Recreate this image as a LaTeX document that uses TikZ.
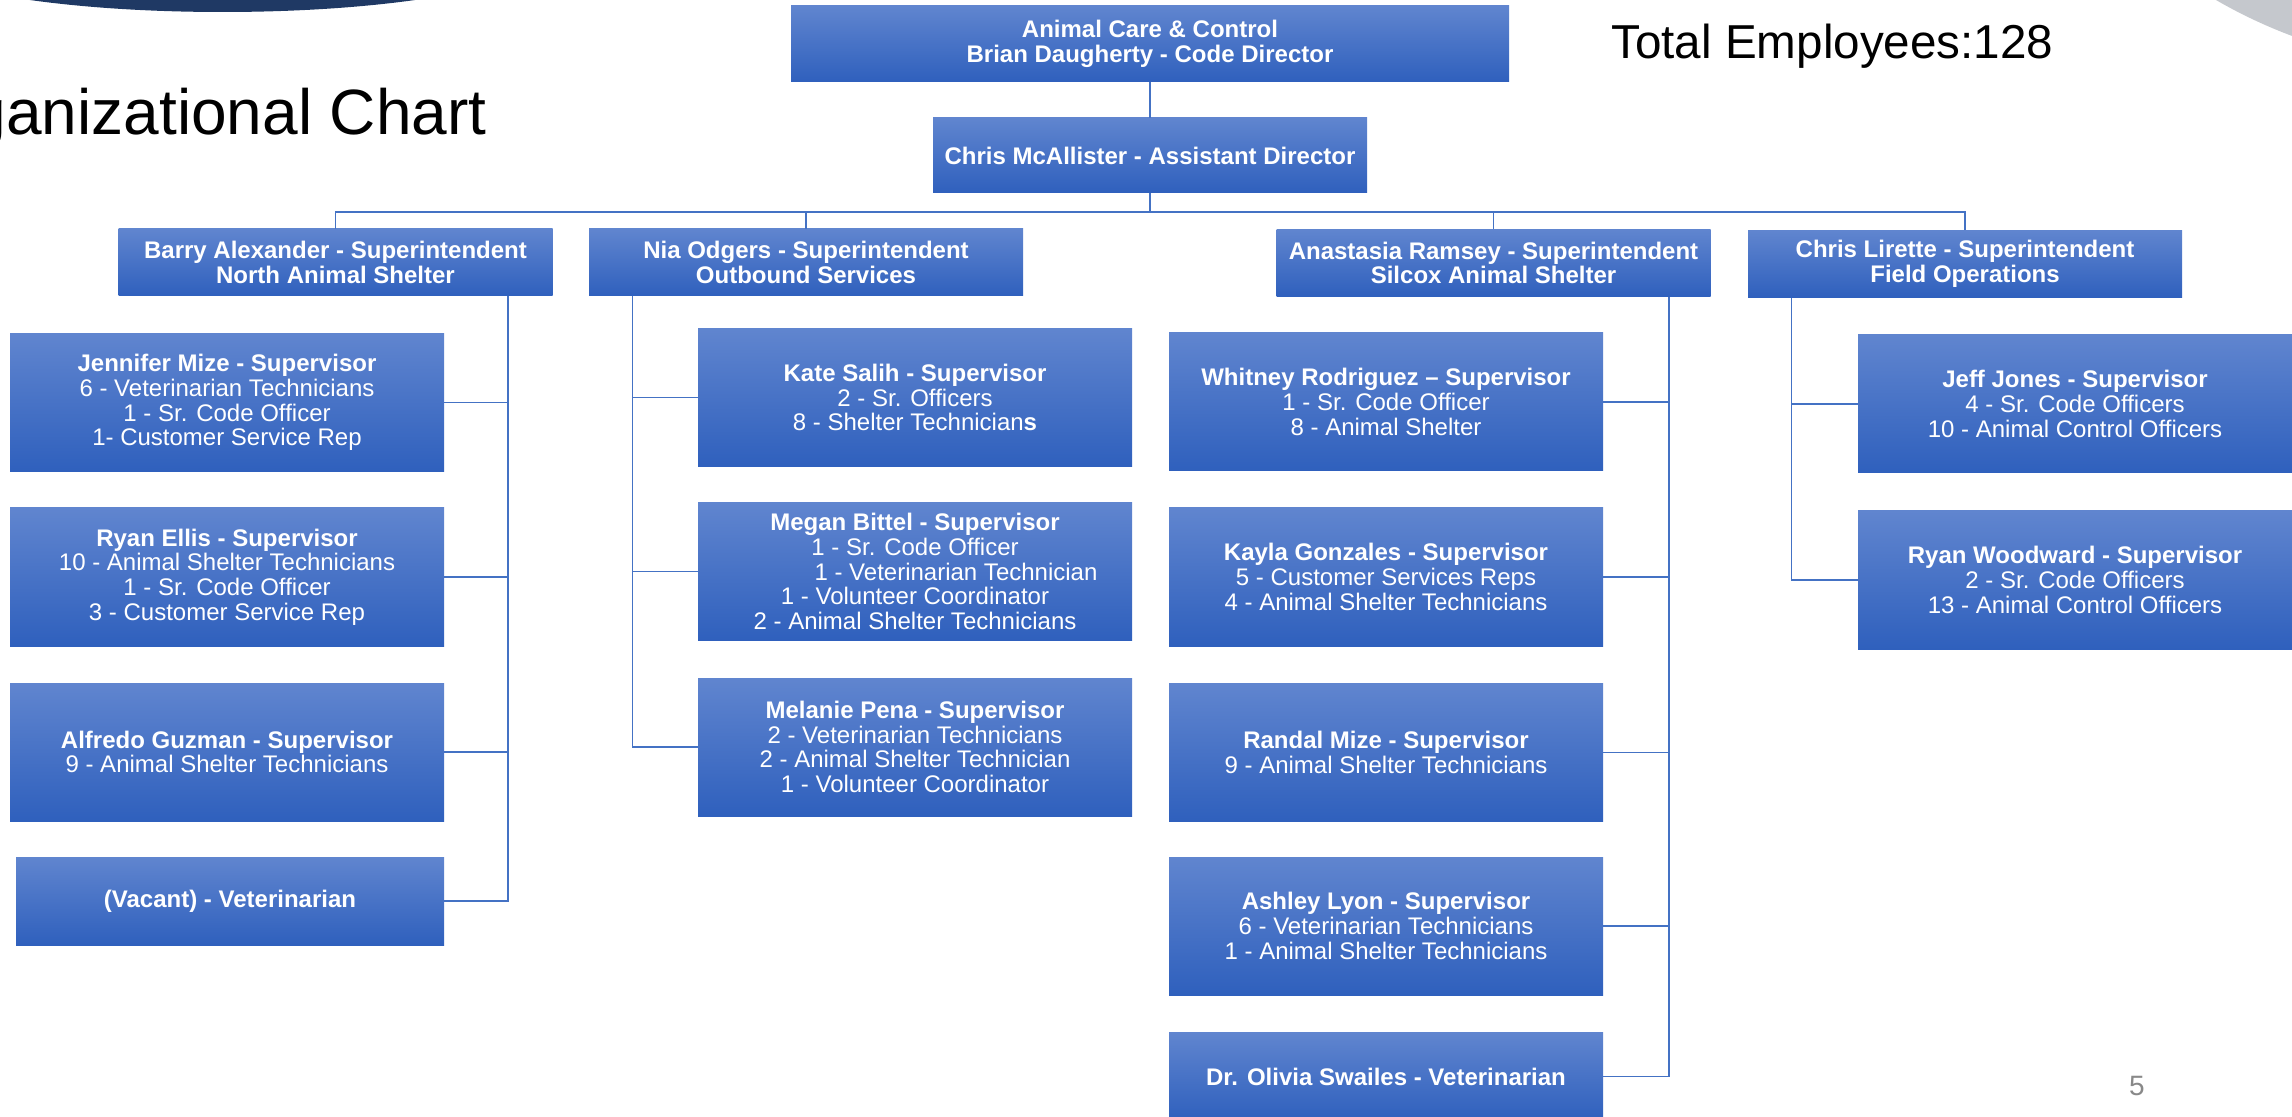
\documentclass[tikz,border=0pt]{standalone}
\usepackage{fontspec}
\setmainfont{Liberation Sans}
\definecolor{boxtop}{RGB}{96,133,207}
\definecolor{boxmid}{RGB}{68,114,196}
\definecolor{boxbot}{RGB}{47,96,189}
\definecolor{linec}{RGB}{68,114,196}
\definecolor{navy}{RGB}{31,57,100}
\definecolor{lgrey}{RGB}{197,200,205}
\definecolor{pgrey}{RGB}{137,137,137}
\newcommand\bxfont{\fontsize{12}{12.3}\selectfont}
\begin{document}
\begin{tikzpicture}[x=0.5pt,y=-0.5pt,
  box/.style={rectangle, top color=boxtop, middle color=boxmid, bottom color=boxbot,
    text=white, align=center, inner sep=1pt, font=\bxfont},
  hbox/.style={box, font=\bxfont\bfseries},
  sbox/.style={hbox, minimum width=217pt, minimum height=33.5pt},
  vbox/.style={box, minimum width=217pt, minimum height=69pt},
  mbox/.style={hbox, minimum width=217pt, minimum height=44pt},
  conn/.style={draw=linec, line width=0.75pt}
]
\useasboundingbox (0,0) rectangle (2292,1117);
\begin{scope}
\clip (0,0) rectangle (2292,1117);
% decorations
\fill[navy] (222.5,-48) ellipse [x radius=321, y radius=60];
\fill[lgrey] (2470,-440) circle [radius=508];

% titles
\node[anchor=base east, font=\fontsize{32}{38}\selectfont, inner sep=0] (title) at (487,135) {Organizational Chart};
\node[anchor=base west, font=\fontsize{23.8}{28}\selectfont, inner sep=0] (total) at (1611,59) {Total Employees:128};
\node[text=pgrey, font=\fontsize{14}{16}\selectfont, inner sep=0] (page) at (2137,1086) {5};

% top levels
\node[hbox, minimum width=359pt, minimum height=38pt] (acc) at (1150,44) {Animal Care \& Control\\Brian Daugherty - Code Director};
\node[hbox, minimum width=217pt, minimum height=37.5pt] (asst) at (1150,155.5) {Chris McAllister - Assistant Director};
\coordinate (bus) at (1150,212);

% superintendents
\node[sbox] (barry) at (335.5,262.5) {Barry Alexander - Superintendent\\North Animal Shelter};
\node[sbox] (nia) at (806,262.5) {Nia Odgers - Superintendent\\Outbound Services};
\node[sbox] (anas) at (1493.5,263) {Anastasia Ramsey - Superintendent\\Silcox Animal Shelter};
\node[sbox] (chrisl) at (1965,264) {Chris Lirette - Superintendent\\Field Operations};

% Barry's column
\node[vbox] (jen) at (227,402.5) {{\bfseries Jennifer Mize - Supervisor}\\6 - Veterinarian Technicians\\1 - Sr. Code Officer\\1- Customer Service Rep};
\node[vbox] (rell) at (227,577) {{\bfseries Ryan Ellis - Supervisor}\\10 - Animal Shelter Technicians\\1 - Sr. Code Officer\\3 - Customer Service Rep};
\node[vbox] (alf) at (227,752) {{\bfseries Alfredo Guzman - Supervisor}\\9 - Animal Shelter Technicians};
\node[mbox, minimum width=214pt] (vac) at (230,901) {(Vacant) - Veterinarian};

% Nia's column
\node[vbox] (kate) at (915,397.5) {{\bfseries Kate Salih - Supervisor}\\2 - Sr. Officers\\8 - Shelter Technician\textbf{s}};
\node[vbox] (meg) at (915,571.5) {{\bfseries Megan Bittel - Supervisor}\\1 - Sr. Code Officer\\\hspace*{41pt}1 - Veterinarian Technician\\1 - Volunteer Coordinator\\2 - Animal Shelter Technicians};
\node[vbox] (mel) at (915,747) {{\bfseries Melanie Pena - Supervisor}\\2 - Veterinarian Technicians\\2 - Animal Shelter Technician\\1 - Volunteer Coordinator};

% Anastasia's column
\node[vbox] (whit) at (1386,402) {{\bfseries Whitney Rodriguez – Supervisor}\\1 - Sr. Code Officer\\8 - Animal Shelter};
\node[vbox] (kay) at (1386,577) {{\bfseries Kayla Gonzales - Supervisor}\\5 - Customer Services Reps\\4 - Animal Shelter Technicians};
\node[vbox] (ran) at (1386,752.5) {{\bfseries Randal Mize - Supervisor}\\9 - Animal Shelter Technicians};
\node[vbox] (ash) at (1386,926) {{\bfseries Ashley Lyon - Supervisor}\\6 - Veterinarian Technicians\\1 - Animal Shelter Technicians};
\node[mbox] (oli) at (1386,1076.5) {Dr. Olivia Swailes - Veterinarian};

% Chris Lirette's column
\node[vbox] (jeff) at (2075,404) {{\bfseries Jeff Jones - Supervisor}\\4 - Sr. Code Officers\\10 - Animal Control Officers};
\node[vbox] (rwood) at (2075,580) {{\bfseries Ryan Woodward - Supervisor}\\2 - Sr. Code Officers\\13 - Animal Control Officers};

% connectors
\draw[conn] (acc.south) -- (asst.north);
\draw[conn] (asst.south) -- (bus) -| (barry.north);
\draw[conn] (asst.south) -- (bus) -| (nia.north);
\draw[conn] (asst.south) -- (bus) -| (anas.north);
\draw[conn] (asst.south) -- (bus) -| (chrisl.north);

\foreach \c in {jen,rell,alf,vac}
  \draw[conn] ([xshift=-22.5pt]barry.south east) |- (\c.east);
\foreach \c in {kate,meg,mel}
  \draw[conn] ([xshift=22pt]nia.south west) |- (\c.west);
\foreach \c in {whit,kay,ran,ash,oli}
  \draw[conn] ([xshift=-21pt]anas.south east) |- (\c.east);
\foreach \c in {jeff,rwood}
  \draw[conn] ([xshift=22pt]chrisl.south west) |- (\c.west);
\end{scope}
\end{tikzpicture}
\end{document}
